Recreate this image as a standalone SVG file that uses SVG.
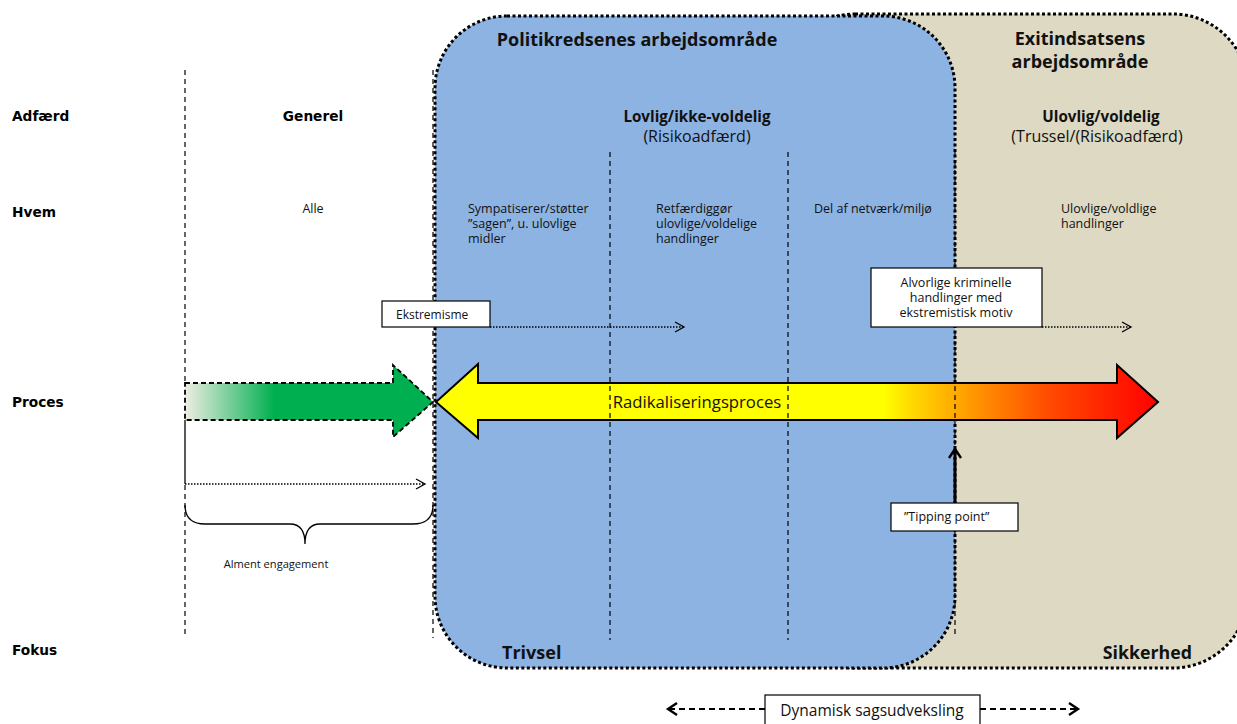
<svg xmlns="http://www.w3.org/2000/svg" width="1237" height="724" viewBox="0 0 1237 724">
<style>
.lbl{font-family:"DejaVu Sans",Verdana,sans-serif;font-weight:bold;font-size:13.7px;fill:#000}
.t{font-family:"Open Sans","Noto Sans",sans-serif;fill:#111}
.b{font-weight:bold}
.s12{font-size:12.5px}
.sb{font-size:15.2px}
.sr{font-size:16px}
.s18{font-size:18px}
.sep{stroke:#000;stroke-width:1.2;stroke-dasharray:5 4;fill:none}
.dot{stroke:#000;stroke-width:1.5;stroke-dasharray:1.5 1.5;fill:none}
.box{fill:#fff;stroke:#000;stroke-width:1.2}
.area{stroke:#000;stroke-width:3;stroke-dasharray:3 2.5}
</style>
<defs>
<linearGradient id="gGreen" gradientUnits="userSpaceOnUse" x1="185" y1="0" x2="433" y2="0">
<stop offset="0" stop-color="#eeede2"/>
<stop offset="0.36" stop-color="#00b050"/>
<stop offset="1" stop-color="#00b050"/>
</linearGradient>
<linearGradient id="gRad" gradientUnits="userSpaceOnUse" x1="436" y1="0" x2="1158" y2="0">
<stop offset="0" stop-color="#ffff00"/>
<stop offset="0.62" stop-color="#ffff00"/>
<stop offset="0.66" stop-color="#ffd800"/>
<stop offset="0.74" stop-color="#ff9a00"/>
<stop offset="0.85" stop-color="#ff4a00"/>
<stop offset="1" stop-color="#ff0000"/>
</linearGradient>
<marker id="open" markerWidth="12" markerHeight="12" refX="10" refY="6" orient="auto" markerUnits="userSpaceOnUse">
<path d="M1,1 L10,6 L1,11" fill="none" stroke="#000" stroke-width="1.3"/>
</marker>
<marker id="openB" markerWidth="14" markerHeight="14" refX="11" refY="7" orient="auto-start-reverse" markerUnits="userSpaceOnUse">
<path d="M2,1 L11,7 L2,13" fill="none" stroke="#000" stroke-width="2.4"/>
</marker>
</defs>

<g id="exit-area">
<rect x="780" y="14" width="468" height="654" rx="75" fill="#ddd9c3" class="area"/>
</g>
<g id="police-area">
<rect x="435" y="16" width="520" height="652" rx="72" fill="#8db3e2" class="area"/>
</g>

<g id="row-labels">
<text class="lbl" x="12" y="121">Adfærd</text>
<text class="lbl" x="12" y="217">Hvem</text>
<text class="lbl" x="12" y="407">Proces</text>
<text class="lbl" x="12" y="655">Fokus</text>
</g>

<g id="col-general">
<text class="lbl" x="313" y="121" text-anchor="middle">Generel</text>
<text class="t s12" x="313" y="213" text-anchor="middle">Alle</text>
</g>

<g id="titles">
<text class="t b s18" x="637" y="46" text-anchor="middle">Politikredsenes arbejdsområde</text>
<text class="t b s18" x="1080" y="45" text-anchor="middle">Exitindsatsens</text>
<text class="t b s18" x="1080" y="68" text-anchor="middle">arbejdsområde</text>
<text class="t b sb" x="697" y="122" text-anchor="middle">Lovlig/ikke-voldelig</text>
<text class="t sr" x="697" y="142" text-anchor="middle">(Risikoadfærd)</text>
<text class="t b sb" x="1101" y="122" text-anchor="middle">Ulovlig/voldelig</text>
<text class="t sr" x="1097" y="142" text-anchor="middle">(Trussel/(Risikoadfærd)</text>
</g>

<g id="hvem-texts">
<text class="t s12" x="468" y="213">Sympatiserer/støtter</text>
<text class="t s12" x="468" y="228">”sagen”, u. ulovlige</text>
<text class="t s12" x="468" y="243">midler</text>
<text class="t s12" x="656" y="213">Retfærdiggør</text>
<text class="t s12" x="656" y="228">ulovlige/voldelige</text>
<text class="t s12" x="656" y="243">handlinger</text>
<text class="t s12" x="814" y="213">Del af netværk/miljø</text>
<text class="t s12" x="1061" y="213">Ulovlige/voldlige</text>
<text class="t s12" x="1061" y="228">handlinger</text>
</g>

<g id="green-arrow">
<path d="M185,383 L393,383 L393,365 L433,402 L393,437 L393,420 L185,420 Z" fill="url(#gGreen)" stroke="#000" stroke-width="1.8" stroke-dasharray="5 3"/>
</g>

<g id="radikalisering-arrow">
<path d="M436,402 L478,364 L478,383 L1117,383 L1117,365 L1158,402 L1117,438 L1117,420 L478,420 L478,438 Z" fill="url(#gRad)" stroke="#000" stroke-width="2"/>
<text class="t" font-size="16.7" x="697" y="408" text-anchor="middle">Radikaliseringsproces</text>
</g>

<g id="connectors">
<line class="sep" x1="185" y1="70" x2="185" y2="383"/>
<line class="sep" x1="185" y1="485" x2="185" y2="638"/>
<line class="sep" x1="433" y1="70" x2="433" y2="638"/>
<line class="sep" x1="610" y1="152" x2="610" y2="640"/>
<line class="sep" x1="788" y1="152" x2="788" y2="640"/>
<line class="sep" x1="955" y1="152" x2="955" y2="638"/>
<line x1="185" y1="420" x2="185" y2="484" stroke="#000" stroke-width="1.3"/>
<line class="dot" x1="185" y1="484" x2="425" y2="484" marker-end="url(#open)"/>
<path d="M185,505 Q185,524 205,524 L290,524 Q305,524 305,544 Q305,524 320,524 L413,524 Q433,524 433,505" fill="none" stroke="#000" stroke-width="1.3"/>
<line class="dot" x1="490" y1="327" x2="684" y2="327" marker-end="url(#open)"/>
<line class="dot" x1="1042" y1="327" x2="1131" y2="327" marker-end="url(#open)"/>
<line x1="955" y1="503" x2="955" y2="449" stroke="#000" stroke-width="3" marker-end="url(#openB)"/>
<line x1="765" y1="709" x2="668" y2="709" stroke="#000" stroke-width="1.8" stroke-dasharray="6 4" marker-end="url(#openB)"/>
<line x1="980" y1="709" x2="1078" y2="709" stroke="#000" stroke-width="1.8" stroke-dasharray="6 4" marker-end="url(#openB)"/>
</g>

<g id="alment">
<text class="t" font-size="11.1" x="276" y="568" text-anchor="middle">Alment engagement</text>
</g>

<g id="ekstremisme">
<rect class="box" x="382" y="301" width="108" height="26"/>
<text class="t" font-size="12" x="396" y="319">Ekstremisme</text>
</g>

<g id="alvorlige">
<rect class="box" x="871" y="268" width="171" height="59"/>
<text class="t s12" x="956" y="287" text-anchor="middle">Alvorlige kriminelle</text>
<text class="t s12" x="956" y="302" text-anchor="middle">handlinger med</text>
<text class="t s12" x="956" y="317" text-anchor="middle">ekstremistisk motiv</text>
</g>

<g id="tipping">
<rect class="box" x="891" y="503" width="127" height="28"/>
<text class="t s12" x="904" y="521">”Tipping point”</text>
</g>

<g id="focus">
<text class="t b" font-size="18" x="502" y="659">Trivsel</text>
<text class="t b" font-size="17.8" x="1192" y="659" text-anchor="end">Sikkerhed</text>
</g>

<g id="dynamisk">
<rect class="box" x="765" y="695" width="215" height="32"/>
<text class="t" font-size="15.5" x="872" y="716" text-anchor="middle">Dynamisk sagsudveksling</text>
</g>
</svg>
